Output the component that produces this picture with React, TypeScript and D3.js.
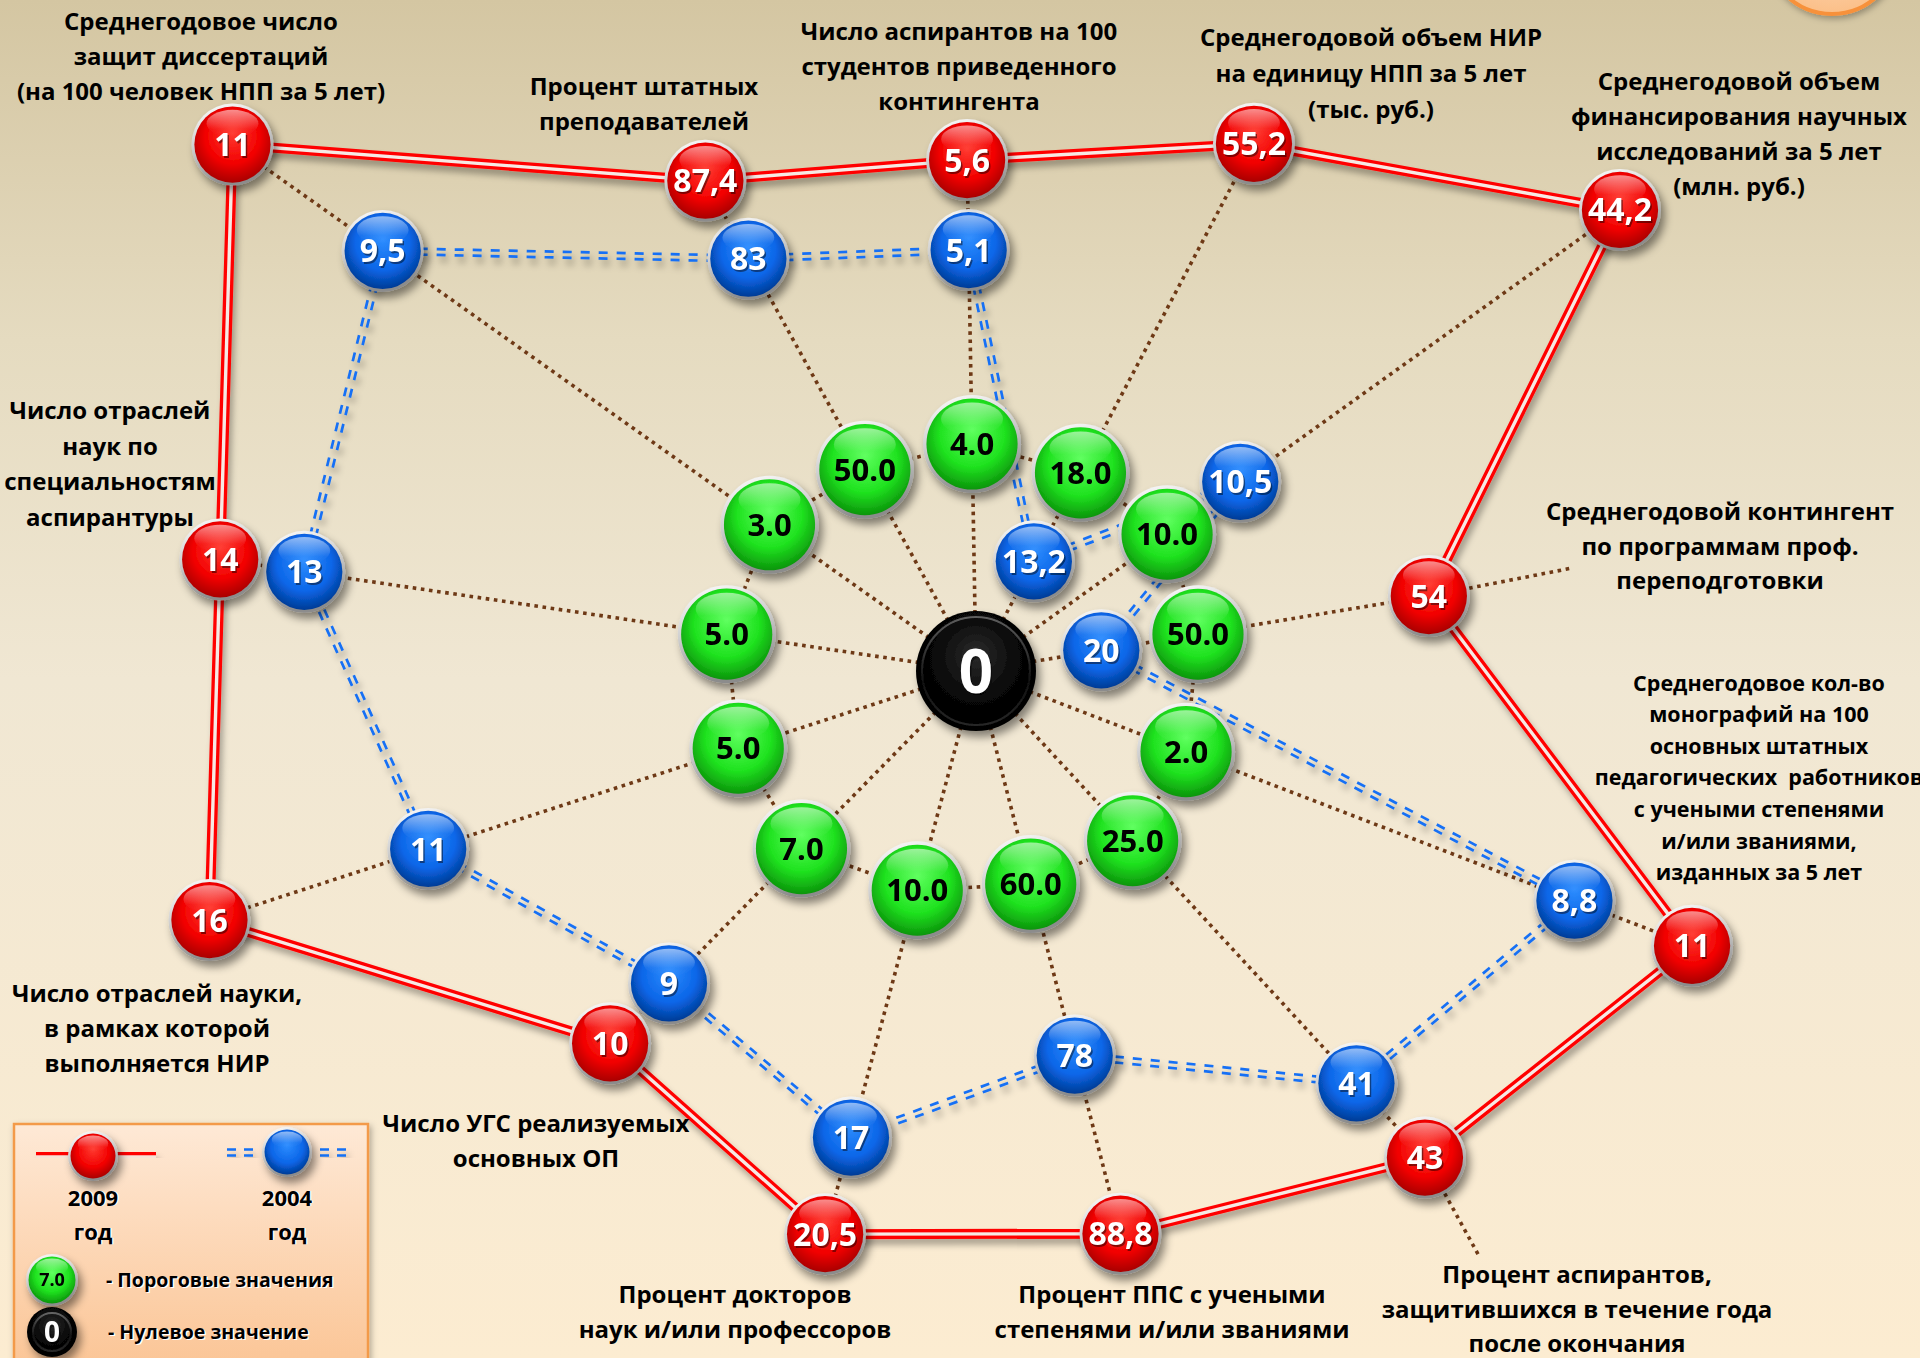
import React from "react";
import * as d3 from "d3";

// ---------- DATA ----------
const categories: string[][] = [
  ["Среднегодовое число", "защит диссертаций", "(на 100 человек НПП за 5 лет)"],
  ["Процент штатных", "преподавателей"],
  ["Число аспирантов на 100", "студентов приведенного", "контингента"],
  ["Среднегодовой объем НИР", "на единицу НПП за 5 лет", "(тыс. руб.)"],
  ["Среднегодовой объем", "финансирования научных", "исследований за 5 лет", "(млн. руб.)"],
  ["Среднегодовой контингент", "по программам проф.", "переподготовки"],
  ["Среднегодовое кол-во", "монографий на 100", "основных штатных", "педагогических  работников", "с учеными степенями", "и/или званиями,", "изданных за 5 лет"],
  ["Процент аспирантов,", "защитившихся в течение года", "после окончания"],
  ["Процент ППС с учеными", "степенями и/или званиями"],
  ["Процент докторов", "наук и/или профессоров"],
  ["Число УГС реализуемых", "основных ОП"],
  ["Число отраслей науки,", "в рамках которой", "выполняется НИР"],
  ["Число отраслей", "наук по", "специальностям", "аспирантуры"],
];

// direction of each axis, degrees clockwise from up
const axisAngles = [-54.7, -28.9, -1.0, 27.8, 54.4, 80.6, 111.0, 137.3, 165.6, 195.0, 224.5, 252.0, 278.4];

const values2009 = [11, 87.4, 5.6, 55.2, 44.2, 54, 11, 43, 88.8, 20.5, 10, 16, 14];
const values2004 = [9.5, 83, 5.1, 13.2, 10.5, 20, 8.8, 41, 78, 17, 9, 11, 13];
const thresholdValues = [3, 50, 4, 18, 10, 50, 2, 25, 60, 10, 7, 5, 5];
const zeroValue = 0;

// radial placement of each marker along its axis (fraction of the radial scale)
const radial2009 = [0.911, 0.560, 0.511, 0.596, 0.792, 0.459, 0.767, 0.662, 0.581, 0.583, 0.522, 0.806, 0.764];
const radial2004 = [0.727, 0.471, 0.421, 0.124, 0.325, 0.127, 0.641, 0.561, 0.397, 0.483, 0.438, 0.576, 0.679];
const radialThreshold = [0.253, 0.230, 0.227, 0.224, 0.235, 0.225, 0.225, 0.231, 0.220, 0.227, 0.249, 0.250, 0.252];

const legendYears = ["2009", "2004"];
const legendYearWord = "год";
const legendThresholdText = "- Пороговые значения";
const legendZeroText = "- Нулевое значение";
const legendThresholdSample = 7;

// ---------- LAYOUT ----------
const W = 1920;
const H = 1358;
const CX = 976;
const CY = 671;
const FONT = "'Open Sans', 'Noto Sans', sans-serif";

const labelLayout = [
  { x: 201, y: 22, dy: 35, size: 24 },
  { x: 644, y: 87, dy: 35, size: 24 },
  { x: 959, y: 32, dy: 35, size: 24 },
  { x: 1371, y: 38, dy: 36, size: 24 },
  { x: 1739, y: 82, dy: 35, size: 24 },
  { x: 1720, y: 512, dy: 34.5, size: 24 },
  { x: 1759, y: 683, dy: 31.6, size: 21.5 },
  { x: 1577, y: 1275, dy: 34.5, size: 24 },
  { x: 1172, y: 1295, dy: 35, size: 24 },
  { x: 735, y: 1295, dy: 35, size: 24 },
  { x: 536, y: 1124, dy: 35, size: 24 },
  { x: 157, y: 994, dy: 35, size: 24 },
  { x: 110, y: 411, dy: 35.5, size: 24 },
];
// dotted leaders that run past the outer marker to the label: [angle, extent]
const leaders: ([number, number] | null)[] = [null, null, null, null, null, [80.2, 0.605], null, [139.3, 0.771], null, null, null, null, null];

const rScale = d3.scaleLinear().domain([0, 1]).range([0, 1000]);
const toPoint = (angleDeg: number, frac: number): [number, number] => {
  const p = d3.pointRadial((angleDeg * Math.PI) / 180, rScale(frac));
  return [CX + p[0], CY + p[1]];
};

const fmtComma = (v: number) => String(v).replace(".", ",");
const fmtFixed = (v: number) => v.toFixed(1);

const palette: Record<string, string[]> = {
  red: ["#ff3a30", "#f20000", "#a30000"],
  blue: ["#2d8dff", "#0b66e8", "#00388f"],
  green: ["#5cff5c", "#1fe21f", "#0a8f0a"],
  black: ["#2b2b2b", "#070707", "#000000"],
};

function Ball({ x, y, r, kind, label, size, color }: any) {
  const rim = kind === "black" ? 0 : Math.max(2.5, r * 0.07);
  return (
    <g transform={`translate(${x},${y})`} filter="url(#ballShadow)">
      {kind !== "black" && <circle r={r} fill="url(#rimGrad)" />}
      <circle r={r - rim} fill={`url(#grad-${kind})`} />
      {kind === "black" ? (
        <circle r={r - 6} fill="none" stroke="url(#blackRing)" strokeWidth={2} />
      ) : (
        <ellipse cx={0} cy={-(r - rim) * 0.55} rx={(r - rim) * 0.68} ry={(r - rim) * 0.36} fill="url(#gloss)" />
      )}
      {color === "#fff" && (
        <text x={1.5} y={2} dy="0.36em" textAnchor="middle" fontFamily={FONT} fontWeight={700} fontSize={size} fill="#000" opacity={0.45}>
          {label}
        </text>
      )}
      <text x={0} y={0} dy="0.36em" textAnchor="middle" fontFamily={FONT} fontWeight={700} fontSize={size} fill={color}>
        {label}
      </text>
    </g>
  );
}

export default function App() {
  const n = axisAngles.length;
  const p2009 = axisAngles.map((a, i) => toPoint(a, radial2009[i]));
  const p2004 = axisAngles.map((a, i) => toPoint(a, radial2004[i]));
  const pThr = axisAngles.map((a, i) => toPoint(a, radialThreshold[i]));
  const closed = d3.line().curve(d3.curveLinearClosed);

  const radialEnds = axisAngles.map((a, i) => toPoint(a, radial2009[i]));
  const leaderLines = leaders
    .map((l, i) => (l ? { from: p2009[i], to: toPoint(l[0], l[1]) } : null))
    .filter(Boolean) as { from: [number, number]; to: [number, number] }[];

  // blue double dashed segments
  const blueSegs: string[] = [];
  for (let i = 0; i < n; i++) {
    const [x1, y1] = p2004[i];
    const [x2, y2] = p2004[(i + 1) % n];
    const len = Math.hypot(x2 - x1, y2 - y1);
    const nx = -(y2 - y1) / len;
    const ny = (x2 - x1) / len;
    for (const s of [-2.9, 2.9]) {
      blueSegs.push(`M${x1 + nx * s},${y1 + ny * s}L${x2 + nx * s},${y2 + ny * s}`);
    }
  }

  return (
    <svg width={W} height={H} style={{ position: "absolute", left: 0, top: 0, display: "block" }}>
      <defs>
        <linearGradient id="bg" x1="0" y1="0" x2="0" y2="1">
          <stop offset="0" stopColor="#d4c6a2" />
          <stop offset="0.25" stopColor="#e5dbc0" />
          <stop offset="0.5" stopColor="#f0e7d3" />
          <stop offset="1" stopColor="#fcecd1" />
        </linearGradient>
        <linearGradient id="legendBg" x1="0" y1="0" x2="0" y2="1">
          <stop offset="0" stopColor="#fee9d6" />
          <stop offset="1" stopColor="#fbc494" />
        </linearGradient>
        <radialGradient id="orangeGrad" cx="0.5" cy="0.4" r="0.6">
          <stop offset="0" stopColor="#fde2c8" />
          <stop offset="1" stopColor="#fbbf88" />
        </radialGradient>
        <linearGradient id="rimGrad" x1="0" y1="0" x2="0.3" y2="1">
          <stop offset="0" stopColor="#ffffff" />
          <stop offset="0.5" stopColor="#cfcfcf" />
          <stop offset="1" stopColor="#8c8c8c" />
        </linearGradient>
        <linearGradient id="gloss" x1="0" y1="0" x2="0" y2="1">
          <stop offset="0" stopColor="#ffffff" stopOpacity={0.55} />
          <stop offset="0.7" stopColor="#ffffff" stopOpacity={0.05} />
          <stop offset="1" stopColor="#ffffff" stopOpacity={0} />
        </linearGradient>
        <linearGradient id="blackRing" x1="0" y1="0" x2="0" y2="1">
          <stop offset="0" stopColor="#ffffff" stopOpacity={0.35} />
          <stop offset="0.6" stopColor="#ffffff" stopOpacity={0.05} />
          <stop offset="1" stopColor="#ffffff" stopOpacity={0.15} />
        </linearGradient>
        {Object.entries(palette).map(([k, c]) => (
          <radialGradient key={k} id={`grad-${k}`} cx="0.5" cy="0.42" r="0.6" fx="0.5" fy="0.35">
            <stop offset="0" stopColor={c[0]} />
            <stop offset="0.6" stopColor={c[1]} />
            <stop offset="1" stopColor={c[2]} />
          </radialGradient>
        ))}
        <filter id="ballShadow" x="-50%" y="-50%" width="200%" height="200%">
          <feDropShadow dx="4" dy="6" stdDeviation="4" floodColor="#000" floodOpacity="0.45" />
        </filter>
        <filter id="lineShadow" x="-10%" y="-10%" width="120%" height="120%">
          <feDropShadow dx="3" dy="6" stdDeviation="3" floodColor="#000" floodOpacity="0.3" />
        </filter>
        <filter id="boxShadow" x="-10%" y="-10%" width="120%" height="120%">
          <feDropShadow dx="2" dy="3" stdDeviation="3" floodColor="#000" floodOpacity="0.3" />
        </filter>
      </defs>

      <rect x={0} y={0} width={W} height={H} fill="url(#bg)" />

      {/* orange badge, top right */}
      <circle cx={1832} cy={-52} r={66} fill="url(#orangeGrad)" stroke="#f7913a" strokeWidth={4} filter="url(#boxShadow)" />

      {/* radial dotted spokes */}
      <g stroke="#6e3916" strokeWidth={3.6} strokeDasharray="3.6 4.6" fill="none">
        {radialEnds.map((e, i) => (
          <line key={i} x1={CX} y1={CY} x2={e[0]} y2={e[1]} />
        ))}
        {leaderLines.map((l, i) => (
          <line key={`ld${i}`} x1={l.from[0]} y1={l.from[1]} x2={l.to[0]} y2={l.to[1]} />
        ))}
        <path d={closed(pThr) as string} />
      </g>

      {/* 2004: blue double dashed */}
      <g filter="url(#lineShadow)" stroke="#1670f5" strokeWidth={2.7} strokeDasharray="9 9" fill="none">
        {blueSegs.map((d, i) => (
          <path key={i} d={d} />
        ))}
      </g>

      {/* 2009: red double line */}
      <g filter="url(#lineShadow)" fill="none">
        <path d={closed(p2009) as string} stroke="#ff0000" strokeWidth={10} strokeLinejoin="round" />
        <path d={closed(p2009) as string} stroke="#f6e9e4" strokeWidth={3.4} strokeLinejoin="round" />
      </g>

      {/* threshold markers */}
      {pThr.map((p, i) => (
        <Ball key={`g${i}`} x={p[0]} y={p[1]} r={49} kind="green" label={fmtFixed(thresholdValues[i])} size={31} color="#000" />
      ))}
      {/* 2004 markers */}
      {p2004.map((p, i) => (
        <Ball key={`b${i}`} x={p[0]} y={p[1]} r={41} kind="blue" label={fmtComma(values2004[i])} size={32} color="#fff" />
      ))}
      {/* 2009 markers */}
      {p2009.map((p, i) => (
        <Ball key={`r${i}`} x={p[0]} y={p[1]} r={41} kind="red" label={fmtComma(values2009[i])} size={32} color="#fff" />
      ))}
      {/* zero */}
      <Ball x={CX} y={CY} r={60} kind="black" label={String(zeroValue)} size={60} color="#fff" />

      {/* axis labels */}
      {categories.map((lines, i) => {
        const L = labelLayout[i];
        return (
          <text key={`l${i}`} textAnchor="middle" fontFamily={FONT} fontWeight={700} fontSize={L.size} fill="#000" style={{ whiteSpace: "pre" }}>
            {lines.map((t, j) => (
              <tspan key={j} x={L.x} y={L.y + j * L.dy} dy="0.35em">
                {t}
              </tspan>
            ))}
          </text>
        );
      })}

      {/* legend */}
      <g>
        <rect x={14} y={1124} width={354} height={250} fill="url(#legendBg)" stroke="#f39a48" strokeWidth={2.5} filter="url(#boxShadow)" />
        <g filter="url(#lineShadow)">
          <line x1={36} y1={1157} x2={156} y2={1157} stroke="#ff0000" strokeWidth={10} />
          <line x1={36} y1={1157} x2={156} y2={1157} stroke="#f7e2d6" strokeWidth={3.4} />
          <g stroke="#1670f5" strokeWidth={2.7} strokeDasharray="9 8">
            <line x1={227} y1={1149.5} x2={256} y2={1149.5} />
            <line x1={227} y1={1155.5} x2={256} y2={1155.5} />
            <line x1={320} y1={1149.5} x2={349} y2={1149.5} />
            <line x1={320} y1={1155.5} x2={349} y2={1155.5} />
          </g>
        </g>
        <Ball x={93} y={1156} r={25} kind="red" label="" size={10} color="#fff" />
        <Ball x={287} y={1152} r={25} kind="blue" label="" size={10} color="#fff" />
        {legendYears.map((yr, i) => {
          const x = i === 0 ? 93 : 287;
          return (
            <g key={yr} fontFamily={FONT} fontWeight={700} fontSize={22} textAnchor="middle">
              <text x={x + 1.5} y={1198} dy="0.35em" fill="#fff">{yr}</text>
              <text x={x} y={1198} dy="0.35em" fill="#000">{yr}</text>
              <text x={x + 1.5} y={1232} dy="0.35em" fill="#fff">{legendYearWord}</text>
              <text x={x} y={1232} dy="0.35em" fill="#000">{legendYearWord}</text>
            </g>
          );
        })}
        <Ball x={52} y={1280} r={26} kind="green" label={fmtFixed(legendThresholdSample)} size={18} color="#000" />
        <Ball x={52} y={1332} r={25} kind="black" label={String(zeroValue)} size={28} color="#fff" />
        <g fontFamily={FONT} fontWeight={700} fontSize={19.5}>
          <text x={107.5} y={1281.5} dy="0.35em" fill="#fff">{legendThresholdText}</text>
          <text x={106} y={1280} dy="0.35em" fill="#000">{legendThresholdText}</text>
          <text x={109.5} y={1333.5} dy="0.35em" fill="#fff">{legendZeroText}</text>
          <text x={108} y={1332} dy="0.35em" fill="#000">{legendZeroText}</text>
        </g>
      </g>
    </svg>
  );
}
